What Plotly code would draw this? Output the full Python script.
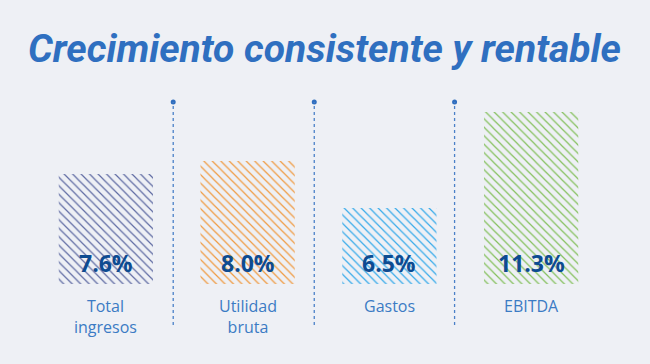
import plotly.graph_objects as go

categories = ["Total<br>ingresos", "Utilidad<br>bruta", "Gastos", "EBITDA"]
value_labels = ["7.6%", "8.0%", "6.5%", "11.3%"]
bar_heights = [110, 123, 76, 172]  # visual bar heights
bar_colors = ["#5f6ba3", "#f09a40", "#35aaea", "#84c05c"]
separators = [0.475, 1.47, 2.46]

BG = "#eef0f5"
x = list(range(len(categories)))

fig = go.Figure()
fig.add_trace(go.Bar(
    x=x, y=bar_heights, width=0.665,
    marker=dict(color=BG, line=dict(width=0),
                pattern=dict(shape="\\", fgcolor=bar_colors, bgcolor=BG,
                             size=6, solidity=0.2, fillmode="replace")),
    hoverinfo="skip", showlegend=False,
))

for xi, lab in zip(x, value_labels):
    fig.add_annotation(x=xi, y=21, text="<b>%s</b>" % lab, showarrow=False,
                       font=dict(family="Open Sans", size=23, color="#0d4b91"))
for xi, cat in zip(x, categories):
    fig.add_annotation(x=xi, y=-9, yanchor="top", text=cat, showarrow=False,
                       font=dict(family="Open Sans", size=16, color="#3b7bc4"))

for sx in separators:
    fig.add_shape(type="line", x0=sx, x1=sx, y0=-41, y1=182,
                  line=dict(color="#4a80c8", width=1.3, dash="3px,3px"))
fig.add_trace(go.Scatter(x=separators, y=[182] * len(separators), mode="markers",
                         marker=dict(color="#2f6ebf", size=5), hoverinfo="skip",
                         showlegend=False))

fig.add_annotation(xref="paper", yref="paper", x=0.51, y=1, yanchor="bottom",
                   xanchor="center", yshift=20,
                   text="<b><i>Crecimiento consistente y rentable</i></b>",
                   showarrow=False,
                   font=dict(family="Roboto", size=39, color="#2f6fc0"))

fig.update_layout(
    width=650, height=364,
    paper_bgcolor=BG, plot_bgcolor=BG,
    margin=dict(l=35, r=48, t=94, b=0),
    xaxis=dict(range=[-0.5, 3.5], visible=False),
    yaxis=dict(range=[-80, 190], visible=False),
)
fig.write_html("out.html", config={"displayModeBar": False},
               post_script="document.body.style.margin='0';document.body.style.background='%s';" % BG)
